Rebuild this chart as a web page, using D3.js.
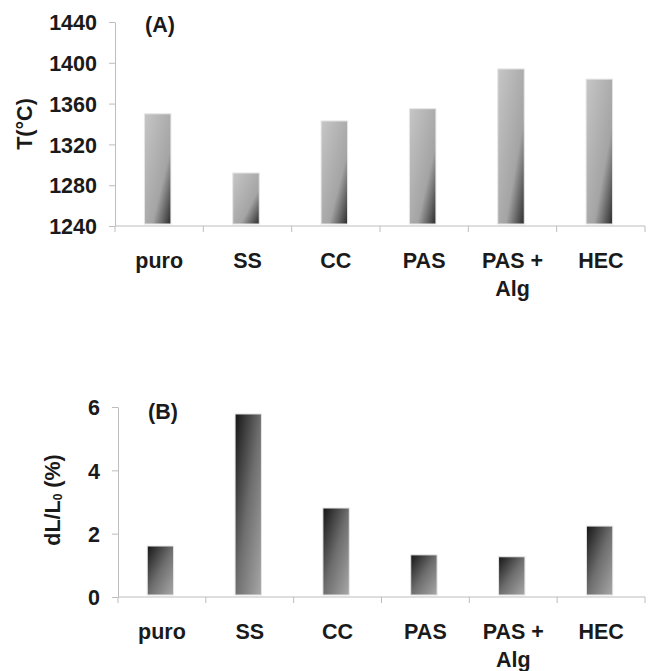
<!DOCTYPE html>
<html>
<head>
<meta charset="utf-8">
<script src="https://cdn.jsdelivr.net/npm/d3@7"></script>
<style>
  body { margin: 0; background: #fff; }
  text { font-family: "Liberation Sans", Arial, sans-serif; font-weight: bold; fill: #1a1a1a; }
</style>
</head>
<body>
<svg width="649" height="671"></svg>
<script>
var categories = ['puro', 'SS', 'CC', 'PAS', 'PAS +|Alg', 'HEC'];
var tempValues = [1350, 1292, 1343, 1355, 1394, 1384];
var tempTicks = [1240, 1280, 1320, 1360, 1400, 1440];
var dilValues = [1.61, 5.78, 2.81, 1.33, 1.27, 2.24];
var dilTicks = [0, 2, 4, 6];

var svg = d3.select('svg'),
    defs = svg.append('defs'),
    fs = '21.5px';

// bar fills: A light->dark diagonal, B dark->light diagonal
var gA = defs.append('linearGradient').attr('id', 'gradA')
  .attr('x1', 0).attr('y1', 0).attr('x2', 1).attr('y2', 1);
gA.append('stop').attr('offset', '0%').attr('stop-color', '#c6c6c6');
gA.append('stop').attr('offset', '65%').attr('stop-color', '#a4a4a4');
gA.append('stop').attr('offset', '100%').attr('stop-color', '#2a2a2a');

var gB = defs.append('linearGradient').attr('id', 'gradB')
  .attr('x1', 0).attr('y1', 0).attr('x2', 1).attr('y2', 1);
gB.append('stop').attr('offset', '0%').attr('stop-color', '#151515');
gB.append('stop').attr('offset', '50%').attr('stop-color', '#6e6e6e');
gB.append('stop').attr('offset', '100%').attr('stop-color', '#a8a8a8');

function panel(opts) {
  var x = d3.scaleBand().domain(categories).range([opts.left, 645]).padding(0);
  var y = d3.scaleLinear().domain(opts.domain).range([opts.bottom, opts.top]);
  var g = svg.append('g');

  // bars
  var bw = x.bandwidth() * 0.3;
  g.selectAll('rect.bar')
    .data(opts.values)
    .enter().append('rect')
      .attr('class', 'bar')
      .attr('x', function(d, i) { return x(categories[i]) + x.bandwidth() / 2 - bw / 2 - 1.5; })
      .attr('y', function(d) { return y(d); })
      .attr('width', bw)
      .attr('height', function(d) { return y(opts.domain[0]) - y(d) - 2; })
      .attr('fill', 'url(#' + opts.grad + ')')
      .attr('stroke', '#e6e6e6')
      .attr('stroke-width', 1);

  // y axis
  var ya = g.append('g')
    .attr('transform', 'translate(' + opts.left + ',0)')
    .call(d3.axisLeft(y).tickValues(opts.ticks).tickFormat(d3.format('d'))
      .tickSize(6).tickPadding(12).tickSizeOuter(0));
  ya.selectAll('path, line').attr('stroke', '#bdbdbd');
  ya.selectAll('text').style('font-size', fs).attr('fill', '#1a1a1a').attr('dy', '0.36em');

  // x axis line + ticks between categories
  g.append('line')
    .attr('x1', opts.left).attr('x2', 645)
    .attr('y1', opts.bottom).attr('y2', opts.bottom)
    .attr('stroke', '#bdbdbd');
  var bounds = categories.map(function(c) { return x(c); }).concat([645]);
  g.selectAll('line.xt')
    .data(bounds)
    .enter().append('line')
      .attr('class', 'xt')
      .attr('x1', function(d) { return d; }).attr('x2', function(d) { return d; })
      .attr('y1', opts.bottom).attr('y2', opts.bottom + 6)
      .attr('stroke', '#bdbdbd');

  // category labels (with line break)
  var lab = g.selectAll('text.cat')
    .data(categories)
    .enter().append('text')
      .attr('class', 'cat')
      .attr('text-anchor', 'middle')
      .style('font-size', fs)
      .attr('transform', function(d) {
        return 'translate(' + (x(d) + x.bandwidth() / 2) + ',' + (opts.bottom + 42) + ')';
      });
  lab.each(function(d) {
    var t = d3.select(this);
    d.split('|').forEach(function(part, i) {
      t.append('tspan').attr('x', 0).attr('y', i * 28).text(part);
    });
  });

  // panel tag
  g.append('text')
    .attr('x', opts.tagX).attr('y', opts.tagY)
    .style('font-size', fs)
    .text(opts.tag);

  // y title
  var yt = g.append('text')
    .attr('text-anchor', 'middle')
    .style('font-size', fs)
    .attr('transform', 'translate(' + opts.titleX + ',' + opts.titleY + ') rotate(-90)');
  opts.title(yt);
}

panel({
  left: 115, top: 22, bottom: 226,
  domain: [1240, 1440], ticks: tempTicks, values: tempValues, grad: 'gradA',
  tag: '(A)', tagX: 145, tagY: 32,
  titleX: 32, titleY: 124,
  title: function(t) { t.text('T(°C)'); }
});

panel({
  left: 118, top: 407, bottom: 597,
  domain: [0, 6], ticks: dilTicks, values: dilValues, grad: 'gradB',
  tag: '(B)', tagX: 148, tagY: 419,
  titleX: 60, titleY: 500,
  title: function(t) {
    t.append('tspan').text('dL/L');
    t.append('tspan').attr('baseline-shift', '-20%').style('font-size', '12px').text('0');
    t.append('tspan').text(' (%)');
  }
});
</script>
</body>
</html>
